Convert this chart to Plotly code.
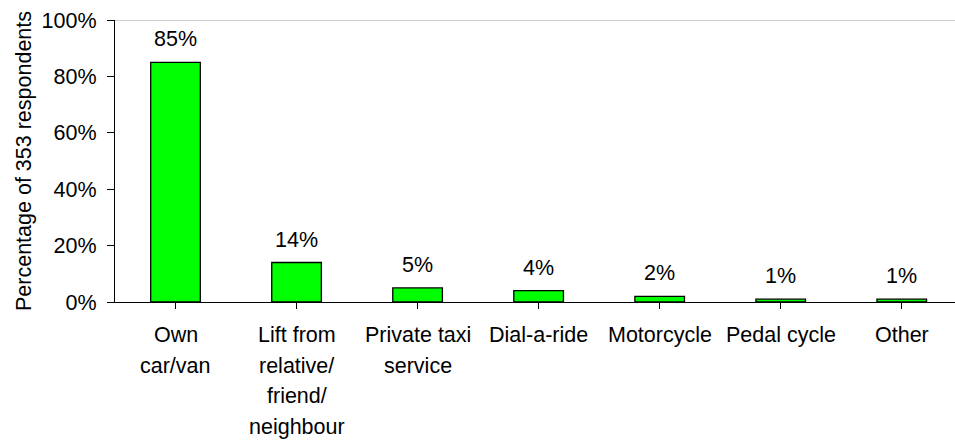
import plotly.graph_objects as go

# Mode of transport used to get to the surgery / service
categories = ["Own<br>car/van", "Lift from<br>relative/<br>friend/<br>neighbour",
              "Private taxi<br>service", "Dial-a-ride", "Motorcycle", "Pedal cycle", "Other"]
values = [85, 14, 5, 4, 2, 1, 1]
y_ticks = [0, 20, 40, 60, 80, 100]
y_tick_labels = ["0%", "20%", "40%", "60%", "80%", "100%"]

FONT = "Liberation Sans, Arial, sans-serif"
FS = 21.5
x_idx = list(range(len(categories)))

fig = go.Figure()
fig.add_trace(go.Bar(
    x=x_idx, y=values, width=0.41,
    marker=dict(color="#00FF00", line=dict(color="#000000", width=1.3)),
    hoverinfo="skip",
))

# value labels above each bar
for i, v in enumerate(values):
    fig.add_annotation(x=i, y=v, text=f"{v}%", showarrow=False, yshift=23,
                       font=dict(family=FONT, size=FS, color="#000"))

# multi-line category labels, one annotation per line for wider line spacing
for i, lab in enumerate(categories):
    for j, line in enumerate(lab.split("<br>")):
        fig.add_annotation(x=i, y=0, yref="y", text=line, showarrow=False,
                           yshift=-(33 + 30.5 * j), yanchor="middle",
                           font=dict(family=FONT, size=FS, color="#000"))

# grey top border of the plot area
fig.add_shape(type="line", xref="paper", yref="y", x0=0, x1=1, y0=100, y1=100,
              line=dict(color="#999999", width=1.2))

fig.update_layout(
    width=955, height=441,
    margin=dict(l=115, r=0, t=20, b=139),
    paper_bgcolor="white", plot_bgcolor="white",
    showlegend=False,
    font=dict(family=FONT, size=FS, color="#000"),
    xaxis=dict(
        range=[-0.5, 6.44], tickvals=x_idx, ticktext=[""] * len(x_idx),
        tickson="boundaries", ticks="outside", ticklen=6, tickcolor="#000",
        showline=True, linecolor="#000", linewidth=1.3, showgrid=False,
        zeroline=False, fixedrange=True,
    ),
    yaxis=dict(
        range=[0, 100], tickvals=y_ticks, ticktext=y_tick_labels,
        ticks="outside", ticklen=7, tickcolor="#000", ticklabelstandoff=6,
        showline=True, linecolor="#000", linewidth=1.3, showgrid=False,
        zeroline=False, tickfont=dict(size=FS),
        title=dict(text="Percentage of 353 respondents", standoff=4,
                   font=dict(size=FS)),
    ),
)

fig.write_html("out.html")
